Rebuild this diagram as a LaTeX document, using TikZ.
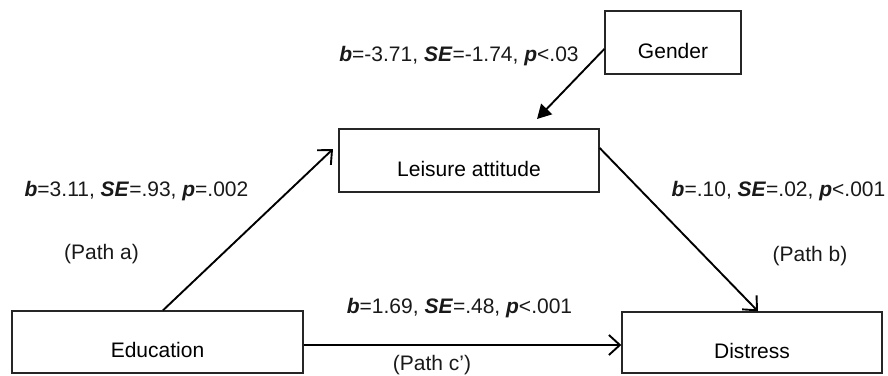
\documentclass[tikz,border=0pt]{standalone}
\usepackage{fontspec}
\setmainfont{Liberation Sans}
\usetikzlibrary{arrows.meta}
\tikzset{
  varbox/.style={draw=black!85, line width=1.4pt, rectangle, inner sep=0pt,
    text height=31pt, text depth=0pt, font=\fontsize{21}{25}\selectfont},
  lab/.style={anchor=base, inner sep=0pt, text=black!90, font=\fontsize{21}{25}\selectfont},
  openarr/.style={draw=black, line width=1.9pt, -{Straight Barb[length=11pt,width=20pt,line width=1.9pt]}},
  fillarr/.style={draw=black, line width=1.9pt, -{Triangle[length=14pt,width=15pt]}}
}
\newcommand{\bi}[1]{\textbf{\textit{#1}}}
\begin{document}
\begin{tikzpicture}[x=1pt,y=-1pt]
\useasboundingbox (0,0) rectangle (888,375);
% boxes
\node[varbox, minimum width=136pt, minimum height=63pt] (gen) at (673,42.5) {Gender};
\node[varbox, minimum width=260pt, minimum height=63pt] (la) at (469,160.5) {Leisure attitude};
\node[varbox, minimum width=291pt, minimum height=62pt] (edu) at (157.5,342) {Education};
\node[varbox, minimum width=260pt, minimum height=61pt] (dist) at (752,342.5) {Distress};
% free ends
\coordinate (gtip) at (537,119);
\coordinate (atip) at (333,149);
% connectors
\draw[fillarr] ([yshift=-6.5pt]gen.west) -- (gtip);
\draw[openarr] ([xshift=5.5pt]edu.north) -- (atip);
\draw[openarr] ([yshift=12.5pt]la.east) -- ([xshift=6pt]dist.north);
\draw[openarr] ([yshift=-3pt]edu.east) -- ([yshift=-2.5pt]dist.west);
% labels
\node[lab] (l1) at (459,61) {\bi{b}=-3.71, \bi{SE}=-1.74, \bi{p}<.03};
\node[lab] (l2) at (136.5,196) {\bi{b}=3.11, \bi{SE}=.93, \bi{p}=.002};
\node[lab] (pa) at (101.5,259) {(Path a)};
\node[lab] (l3) at (778.5,196) {\bi{b}=.10, \bi{SE}=.02, \bi{p}<.001};
\node[lab] (pb) at (810,261) {(Path b)};
\node[lab] (l4) at (459.5,313) {\bi{b}=1.69, \bi{SE}=.48, \bi{p}<.001};
\node[lab] (pc) at (432,370) {(Path c')};
\end{tikzpicture}
\end{document}
